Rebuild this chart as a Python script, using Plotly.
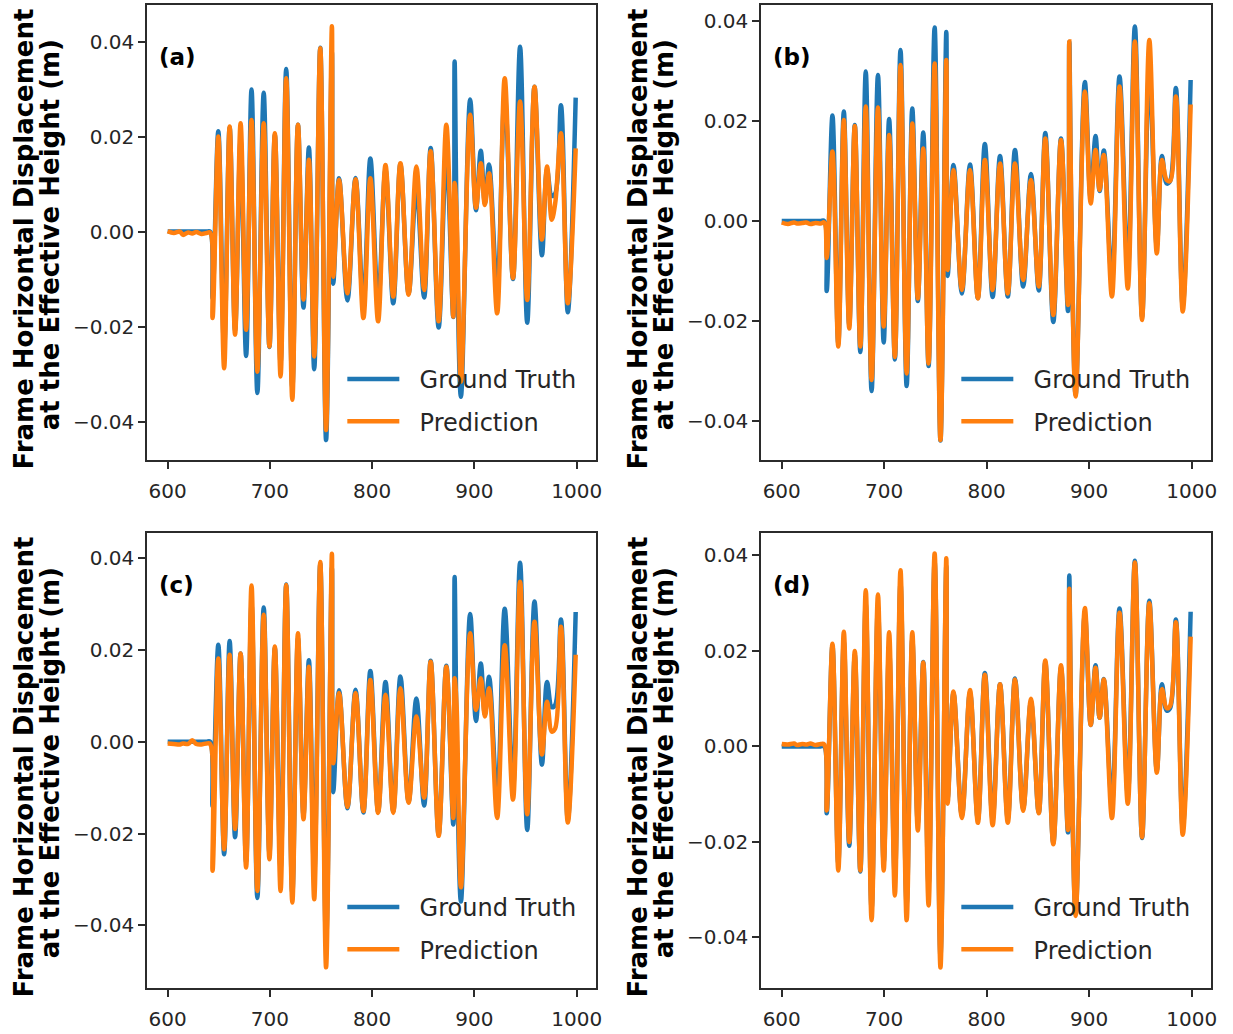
import plotly.graph_objects as go

# Time stamps (s) of the turning points of each displacement record
time_s = [600, 606, 612, 615, 620, 624, 628, 633, 638, 641.5,
          643.9, 649.5, 655.2, 660.6, 665.9, 671.3, 676.7, 682.0, 687.7, 693.9,
          699.5, 704.8, 710.4, 715.9, 721.9, 727.4, 732.8, 738.1, 743.3, 749.2,
          754.9, 760.6, 761.9, 767.6, 775.8, 783.7, 791.4, 798.2, 805.8, 813.0,
          820.6, 827.6, 835.6, 843.2, 850.8, 857.2, 865.0, 872.5, 879.3, 880.6,
          882.5, 886.8, 895.8, 901.5, 906.2, 910.2, 914.3, 922.2, 929.6, 937.7,
          944.6, 951.6, 958.7, 966.0, 971.0, 975.6, 979.0, 984.6, 991.3, 999.0]

ground_truth = [0, 0, 0, 0, 0, 0, 0, 0, 0, 0,
                -0.0140, 0.0211, -0.0245, 0.0219, -0.0208, 0.0192, -0.0262, 0.0299, -0.0340, 0.0292,
                -0.0243, 0.0204, -0.0277, 0.0342, -0.0330, 0.0225, -0.0160, 0.0177, -0.0290, 0.0387,
                -0.0439, 0.0378, -0.0110, 0.0112, -0.0145, 0.0113, -0.0154, 0.0154, -0.0152, 0.0130,
                -0.0151, 0.0142, -0.0131, 0.0094, -0.0139, 0.0176, -0.0202, 0.0165, -0.0180, 0.0358,
                0.0030, -0.0348, 0.0278, 0.0045, 0.0170, 0.0060, 0.0141, -0.0120, 0.0289, -0.0100,
                0.0389, -0.0192, 0.0305, -0.0050, 0.0130, 0.0075, 0.0080, 0.0266, -0.0170, 0.0282]

prediction_a = [0.0001, -0.0003, 0.0000, -0.0007, -0.0002, -0.0004, -0.0001, -0.0005, -0.0003, -0.0002,
                -0.0182, 0.0200, -0.0288, 0.0221, -0.0217, 0.0228, -0.0207, 0.0235, -0.0295, 0.0228,
                -0.0242, 0.0207, -0.0305, 0.0323, -0.0354, 0.0225, -0.0143, 0.0151, -0.0263, 0.0386,
                -0.0418, 0.0432, -0.0095, 0.0109, -0.0130, 0.0110, -0.0182, 0.0112, -0.0189, 0.0140,
                -0.0137, 0.0144, -0.0133, 0.0137, -0.0123, 0.0169, -0.0189, 0.0225, -0.0179, 0.0102,
                0.0040, -0.0316, 0.0246, 0.0050, 0.0144, 0.0056, 0.0123, -0.0172, 0.0323, -0.0098,
                0.0274, -0.0144, 0.0305, -0.0017, 0.0137, 0.0025, 0.0060, 0.0207, -0.0151, 0.0175]

prediction_b = [-0.0003, -0.0006, -0.0003, -0.0005, -0.0004, -0.0003, -0.0006, -0.0004, -0.0005, -0.0003,
                -0.0074, 0.0139, -0.0251, 0.0202, -0.0215, 0.0190, -0.0251, 0.0229, -0.0318, 0.0227,
                -0.0211, 0.0172, -0.0272, 0.0312, -0.0305, 0.0195, -0.0155, 0.0145, -0.0285, 0.0315,
                -0.0438, 0.0322, -0.0098, 0.0102, -0.0138, 0.0102, -0.0155, 0.0122, -0.0138, 0.0115,
                -0.0145, 0.0115, -0.0118, 0.0082, -0.0131, 0.0165, -0.0188, 0.0162, -0.0168, 0.0359,
                0.0030, -0.0351, 0.0259, 0.0035, 0.0142, 0.0062, 0.0132, -0.0151, 0.0269, -0.0135,
                0.0359, -0.0198, 0.0362, -0.0065, 0.0122, 0.0082, 0.0080, 0.0249, -0.0181, 0.0233]

prediction_c = [-0.0004, -0.0005, -0.0006, -0.0004, -0.0005, 0.0003, -0.0005, -0.0006, -0.0004, -0.0005,
                -0.0281, 0.0181, -0.0234, 0.0189, -0.0190, 0.0192, -0.0274, 0.0340, -0.0325, 0.0276,
                -0.0256, 0.0207, -0.0325, 0.0341, -0.0350, 0.0236, -0.0169, 0.0163, -0.0343, 0.0391,
                -0.0491, 0.0409, -0.0047, 0.0106, -0.0142, 0.0106, -0.0151, 0.0134, -0.0155, 0.0102,
                -0.0155, 0.0116, -0.0133, 0.0055, -0.0122, 0.0174, -0.0205, 0.0163, -0.0166, 0.0138,
                0.0080, -0.0317, 0.0236, 0.0069, 0.0138, 0.0055, 0.0116, -0.0166, 0.0210, -0.0126,
                0.0348, -0.0158, 0.0261, -0.0028, 0.0087, 0.0022, 0.0029, 0.0250, -0.0176, 0.0189]

prediction_d = [0.0005, 0.0004, 0.0006, 0.0003, 0.0005, 0.0004, 0.0006, 0.0003, 0.0005, 0.0004,
                -0.0134, 0.0215, -0.0260, 0.0240, -0.0200, 0.0200, -0.0260, 0.0327, -0.0364, 0.0318,
                -0.0260, 0.0239, -0.0312, 0.0369, -0.0364, 0.0239, -0.0176, 0.0176, -0.0333, 0.0404,
                -0.0463, 0.0394, -0.0120, 0.0115, -0.0150, 0.0118, -0.0160, 0.0150, -0.0165, 0.0130,
                -0.0160, 0.0140, -0.0135, 0.0100, -0.0140, 0.0180, -0.0205, 0.0170, -0.0175, 0.0330,
                0.0040, -0.0355, 0.0290, 0.0045, 0.0165, 0.0060, 0.0140, -0.0150, 0.0280, -0.0120,
                0.0385, -0.0190, 0.0300, -0.0055, 0.0120, 0.0080, 0.0085, 0.0260, -0.0185, 0.0230]

panel_labels = ["(a)", "(b)", "(c)", "(d)"]
series_names = ["Ground Truth", "Prediction"]
x_tick_values = [600, 700, 800, 900, 1000]
y_tick_values = [-0.04, -0.02, 0.00, 0.02, 0.04]
y_tick_text = ["\u22120.04", "\u22120.02", "0.00", "0.02", "0.04"]
y_title_lines = ["Frame Horizontal Displacement", "at the Effective Height (m)"]

W, H = 1233, 1034
BLUE, ORANGE = "#1f77b4", "#ff7f0e"
INK = "#262626"
FRAME = "#2b2b2b"
FONT = "DejaVu Sans"
GAP = "\u00a0\u00a0"  # space between legend line and its label

# plot-area boxes in pixels: (left, top, right, bottom) and y-range per panel
boxes = [(148, 5, 599, 460), (765, 5, 1217, 460),
         (148, 533, 599, 988), (765, 533, 1217, 988)]
y_ranges = [[-0.0481, 0.0477], [-0.0478, 0.0432], [-0.0536, 0.0454], [-0.0506, 0.0447]]
predictions = [prediction_a, prediction_b, prediction_c, prediction_d]

fig = go.Figure()
layout = dict(width=W, height=H, margin=dict(l=0, r=0, t=0, b=0),
              paper_bgcolor="white", plot_bgcolor="white",
              font=dict(family=FONT, color=INK), annotations=[])

for i, ((l, t, r, b), yr, pred, lab) in enumerate(zip(boxes, y_ranges, predictions, panel_labels)):
    k = "" if i == 0 else str(i + 1)
    xa, ya = "x" + k, "y" + k
    leg = "legend" + k
    fig.add_trace(go.Scatter(x=time_s, y=ground_truth, mode="lines", name=GAP + series_names[0],
                             line=dict(color=BLUE, width=4.5, shape="spline", smoothing=1.0),
                             xaxis=xa, yaxis=ya, legend=leg, legendgroup="gt" + k))
    fig.add_trace(go.Scatter(x=time_s, y=pred, mode="lines", name=GAP + series_names[1],
                             line=dict(color=ORANGE, width=4.5, shape="spline", smoothing=1.0),
                             xaxis=xa, yaxis=ya, legend=leg, legendgroup="pr" + k))
    axis_style = dict(showline=True, linecolor=FRAME, linewidth=2, mirror=True,
                      ticks="outside", ticklen=7, tickwidth=1.6, tickcolor=FRAME,
                      showgrid=False, zeroline=False,
                      tickfont=dict(family=FONT, size=20, color=INK))
    layout["xaxis" + k] = dict(domain=[l / W, r / W], anchor=ya, range=[580.05, 1018.95],
                               tickvals=x_tick_values, ticklabelstandoff=5, **axis_style)
    layout["yaxis" + k] = dict(domain=[1 - b / H, 1 - t / H], anchor=xa, range=yr,
                               tickvals=y_tick_values, ticktext=y_tick_text, **axis_style)
    layout[leg] = dict(x=(l + 196) / W, y=1 - (t + 352) / H, xanchor="left", yanchor="top",
                       bgcolor="rgba(0,0,0,0)", borderwidth=0, itemwidth=52,
                       tracegroupgap=8, font=dict(family=FONT, size=24, color=INK))
    layout["annotations"].append(dict(text="<b>%s</b>" % lab, x=(l + 10) / W, y=1 - (t + 52) / H,
                                      xref="paper", yref="paper", xanchor="left", yanchor="middle",
                                      showarrow=False, font=dict(family=FONT, size=23, color="black")))
    # two-line rotated axis title, one annotation per line
    mid = (t + b) / 2
    for line_text, dx, dy in zip(y_title_lines, (-124, -98), (6, 2)):
        layout["annotations"].append(dict(text="<b>%s</b>" % line_text, x=(l + dx) / W,
                                          y=1 - (mid + dy) / H, xref="paper", yref="paper",
                                          xanchor="center", yanchor="middle", textangle=-90,
                                          showarrow=False,
                                          font=dict(family=FONT, size=26, color="black")))

fig.update_layout(**layout)
fig.write_html("out.html")
